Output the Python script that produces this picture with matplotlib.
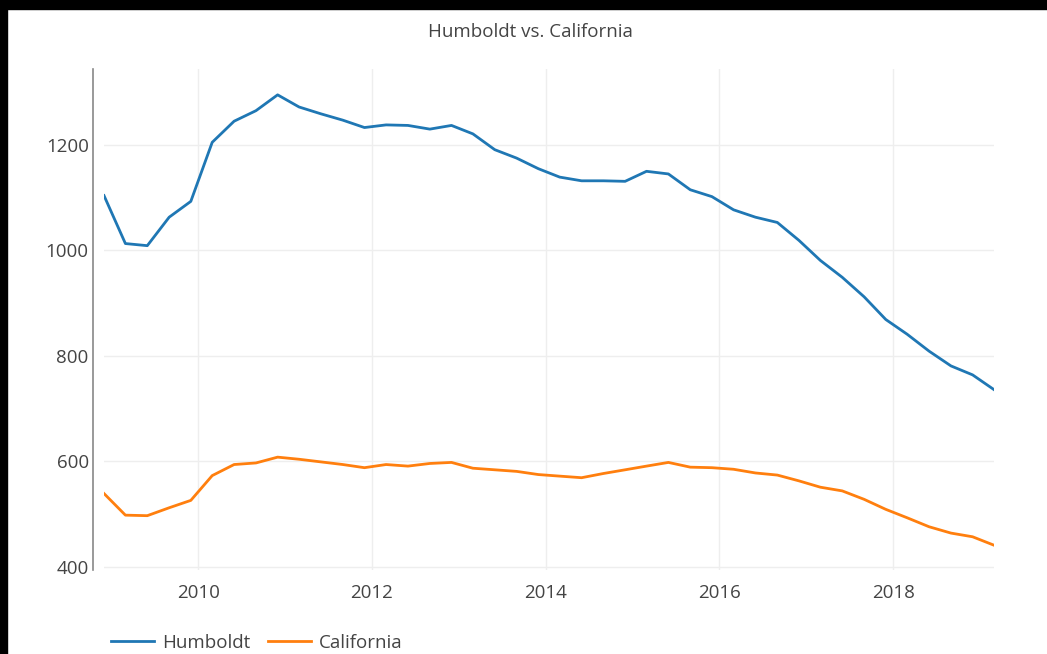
import numpy as np
import pandas as pd
import matplotlib
matplotlib.use("Agg")
import matplotlib.pyplot as plt
import matplotlib.dates as mdates
from matplotlib.patches import Rectangle

plt.rcParams['font.family'] = ['Open Sans', 'DejaVu Sans']

# quarterly values, Dec 2008 .. Mar 2019
dates = pd.date_range('2008-12-01', periods=42, freq='3MS')
humboldt = [1104, 1013, 1009, 1063, 1093, 1205, 1245, 1265, 1295, 1272,
            1259, 1247, 1233, 1238, 1237, 1230, 1237, 1221, 1191, 1175,
            1155, 1139, 1132, 1132, 1131, 1150, 1145, 1115, 1102, 1077,
            1063, 1053, 1019, 981, 949, 912, 869, 841, 809, 781,
            764, 736]
california = [539, 498, 497, 512, 526, 573, 594, 597, 608, 604,
              599, 594, 588, 594, 591, 596, 598, 587, 584, 581,
              575, 572, 569, 577, 584, 591, 598, 589, 588, 585,
              578, 574, 563, 551, 544, 528, 509, 493, 476, 464,
              457, 441]
years = [2010, 2012, 2014, 2016, 2018]
yticks = [400, 600, 800, 1000, 1200]

W, H = 1047, 654
fig = plt.figure(figsize=(W / 100, H / 100), dpi=100)
ax = fig.add_axes([104 / W, 1 - 570 / H, 890 / W, 501 / H])

ax.plot(dates, humboldt, color='#1f77b4', lw=2.0, label='Humboldt')
ax.plot(dates, california, color='#ff7f0e', lw=2.0, label='California')

ax.set_xlim(dates[0], dates[-1])
ax.set_ylim(394, 1344)
ax.set_xticks([pd.Timestamp(f'{y}-01-01') for y in years])
ax.xaxis.set_major_formatter(mdates.DateFormatter('%Y'))
ax.set_yticks(yticks)
ax.grid(True, color='#eeeeee', lw=1)
ax.set_axisbelow(True)

for s in ['top', 'right', 'bottom']:
    ax.spines[s].set_visible(False)
ax.spines['left'].set_position(('outward', 8))
ax.spines['left'].set_color('#888888')
ax.spines['left'].set_linewidth(1.2)
ax.tick_params(length=0, labelsize=13.5, labelcolor='#444444')
ax.tick_params(axis='x', pad=10)
ax.tick_params(axis='y', pad=3)

fig.text(530 / W, 1 - 32 / H, 'Humboldt vs. California', ha='center', va='center',
         fontsize=13.5, color='#444444')

fig.legend(loc='center left', bbox_to_anchor=(111 / W, 1 - 643 / H), ncol=2,
           frameon=False, fontsize=13.5, handlelength=2.3, handletextpad=0.45,
           columnspacing=0.9, borderaxespad=0, borderpad=0, labelcolor='#444444')

# screenshot border
fig.patches.append(Rectangle((0, 1 - 9 / H), 1, 9 / H, transform=fig.transFigure,
                             color='black', zorder=10))
fig.patches.append(Rectangle((0, 0), 7 / W, 1, transform=fig.transFigure,
                             color='black', zorder=10))

fig.savefig('out.png', dpi=100)
